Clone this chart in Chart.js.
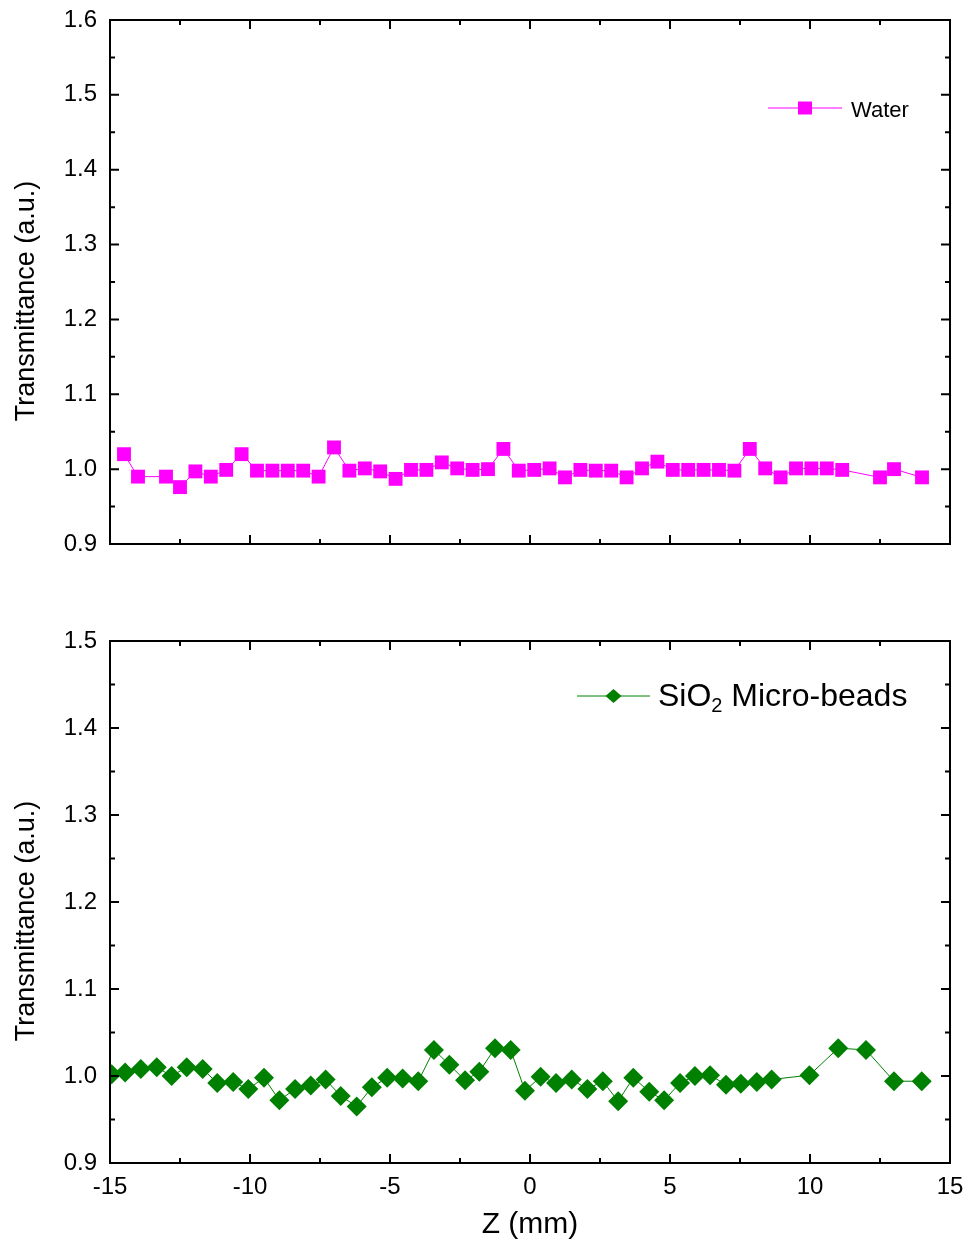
<!DOCTYPE html>
<html>
<head>
<meta charset="utf-8">
<script src="https://cdn.jsdelivr.net/npm/chart.js@4.4.1/dist/chart.umd.min.js"></script>
<style>
  html, body { margin: 0; padding: 0; background: #fff; }
  #wrap { position: relative; width: 967px; height: 1243px; }
  canvas { position: absolute; left: 0; }
</style>
</head>
<body>
<div id="wrap">
  <canvas id="top" width="967" height="600" style="top:0"></canvas>
  <canvas id="bottom" width="967" height="643" style="top:600px"></canvas>
</div>
<script>
// Water (upper panel)
const waterZ = [-14.5, -14.0, -13.0, -12.5, -11.95, -11.4, -10.85, -10.3, -9.75, -9.2,
  -8.65, -8.1, -7.55, -7.0, -6.45, -5.9, -5.35, -4.8, -4.25, -3.7,
  -3.15, -2.6, -2.05, -1.5, -0.95, -0.4, 0.15, 0.7, 1.25, 1.8,
  2.35, 2.9, 3.45, 4.0, 4.55, 5.1, 5.65, 6.2, 6.75, 7.3,
  7.85, 8.4, 8.95, 9.5, 10.05, 10.6, 11.15, 12.5, 13.0, 14.0];
const waterT = [1.020, 0.990, 0.990, 0.976, 0.997, 0.990, 0.999, 1.020, 0.998, 0.998,
  0.998, 0.998, 0.990, 1.029, 0.998, 1.001, 0.997, 0.987, 0.999, 0.999,
  1.009, 1.001, 0.999, 1.000, 1.027, 0.998, 0.999, 1.001, 0.989, 0.999,
  0.998, 0.998, 0.989, 1.001, 1.010, 0.999, 0.999, 0.999, 0.999, 0.998,
  1.027, 1.001, 0.989, 1.001, 1.001, 1.001, 0.999, 0.989, 1.000, 0.989];

// SiO2 micro-beads (lower panel)
const beadsZ = [-14.94, -14.46, -13.9, -13.33, -12.8, -12.26, -11.69, -11.17, -10.6, -10.06,
  -9.5, -8.95, -8.39, -7.83, -7.3, -6.76, -6.19, -5.65, -5.1, -4.55,
  -3.99, -3.43, -2.88, -2.32, -1.81, -1.25, -0.69, -0.18, 0.38, 0.93,
  1.49, 2.05, 2.6, 3.15, 3.69, 4.26, 4.79, 5.36, 5.89, 6.43,
  7.0, 7.53, 8.1, 8.63, 9.98, 11.01, 12.0, 13.0, 13.99];
const beadsT = [1.002, 1.004, 1.008, 1.010, 1.000, 1.010, 1.008, 0.992, 0.993, 0.985,
  0.998, 0.972, 0.985, 0.989, 0.996, 0.977, 0.965, 0.987, 0.998, 0.997,
  0.994, 1.030, 1.013, 0.995, 1.005, 1.032, 1.030, 0.983, 0.999, 0.992,
  0.996, 0.985, 0.994, 0.971, 0.998, 0.982, 0.972, 0.992, 1.000, 1.001,
  0.990, 0.991, 0.993, 0.996, 1.001, 1.032, 1.030, 0.994, 0.994];

const zMin = -15, zMax = 15, zStep = 5;
const topYMin = 0.9, topYMax = 1.6;
const botYMin = 0.9, botYMax = 1.5;
const yStep = 0.1;

const FONT = '"Liberation Sans", Arial, sans-serif';
const MAGENTA = '#ff00ff';
const GREEN = '#008000';

const pts = (xs, ys) => xs.map((x, i) => ({ x, y: ys[i] }));

// box + inward ticks, y-axis title, in-plot legend
function framePlugin(cfg) {
  return {
    id: 'frame',
    afterDraw(chart) {
      const { ctx, chartArea: a, scales: { x, y } } = chart;
      ctx.save();
      ctx.strokeStyle = '#000';
      ctx.lineWidth = 2;
      ctx.strokeRect(a.left, a.top, a.right - a.left, a.bottom - a.top);

      const ticksOf = sc => {
        const v = sc.ticks.map(t => t.value);
        const out = [];
        v.forEach((t, i) => {
          out.push({ v: t, major: true });
          if (i < v.length - 1) out.push({ v: (t + v[i + 1]) / 2, major: false });
        });
        return out;
      };
      ctx.beginPath();
      ticksOf(x).forEach(t => {
        const px = x.getPixelForValue(t.v);
        const len = t.major ? 9 : 5;
        ctx.moveTo(px, a.bottom); ctx.lineTo(px, a.bottom - len);
        ctx.moveTo(px, a.top); ctx.lineTo(px, a.top + len);
      });
      ticksOf(y).forEach(t => {
        const py = y.getPixelForValue(t.v);
        const len = t.major ? 9 : 5;
        ctx.moveTo(a.left, py); ctx.lineTo(a.left + len, py);
        ctx.moveTo(a.right, py); ctx.lineTo(a.right - len, py);
      });
      ctx.stroke();

      // y title
      ctx.fillStyle = '#000';
      ctx.font = '27px ' + FONT;
      ctx.textAlign = 'center';
      ctx.textBaseline = 'middle';
      ctx.translate(27, cfg.titleY);
      ctx.rotate(-Math.PI / 2);
      ctx.fillText('Transmittance (a.u.)', 0, 0);
      ctx.restore();

      // legend
      const L = cfg.legend;
      ctx.save();
      ctx.strokeStyle = L.color;
      ctx.lineWidth = 1;
      ctx.beginPath();
      ctx.moveTo(L.x0, L.y); ctx.lineTo(L.x1, L.y);
      ctx.stroke();
      ctx.fillStyle = L.color;
      const mx = (L.x0 + L.x1) / 2;
      ctx.beginPath();
      if (L.shape === 'rect') {
        ctx.rect(mx - 7, L.y - 6.5, 14, 13);
      } else {
        ctx.moveTo(mx - 8, L.y); ctx.lineTo(mx, L.y - 7);
        ctx.lineTo(mx + 8, L.y); ctx.lineTo(mx, L.y + 7);
        ctx.closePath();
      }
      ctx.fill();
      ctx.fillStyle = '#000';
      ctx.textAlign = 'left';
      ctx.textBaseline = 'middle';
      let tx = L.tx;
      L.parts.forEach(p => {
        ctx.font = p.size + 'px ' + FONT;
        ctx.fillText(p.text, tx, L.y + (p.dy || 0));
        tx += ctx.measureText(p.text).width;
      });
      ctx.restore();
    }
  };
}

function yAxis(min, max) {
  return {
    min, max,
    border: { display: false },
    grid: { display: false, drawTicks: false },
    ticks: {
      stepSize: yStep,
      padding: 13,
      color: '#000',
      font: { family: FONT, size: 24 },
      callback: v => v.toFixed(1)
    },
    afterFit(s) { s.width = 110; s.paddingTop = 0; s.paddingBottom = 0; }
  };
}

function dataset(label, data, color, style, radius) {
  return {
    label, data,
    borderColor: color,
    backgroundColor: color,
    borderWidth: 1,
    pointStyle: style,
    pointRadius: radius,
    pointBorderWidth: 0,
    pointBackgroundColor: color,
    tension: 0
  };
}

new Chart(document.getElementById('top'), {
  type: 'line',
  data: { datasets: [dataset('Water', pts(waterZ, waterT), MAGENTA, 'rect', 9.8)] },
  options: {
    responsive: false,
    animation: false,
    devicePixelRatio: 1,
    layout: { padding: { top: 20, right: 17, bottom: 56, left: 0 } },
    plugins: { legend: { display: false }, tooltip: { enabled: false } },
    scales: {
      x: { type: 'linear', min: zMin, max: zMax, display: false, ticks: { stepSize: zStep } },
      y: yAxis(topYMin, topYMax)
    }
  },
  plugins: [framePlugin({
    titleY: 301,
    legend: { x0: 768, x1: 842, y: 108, color: MAGENTA, shape: 'rect', tx: 851,
      parts: [{ text: 'Water', size: 22, dy: 3 }] }
  })]
});

new Chart(document.getElementById('bottom'), {
  type: 'line',
  data: { datasets: [dataset('SiO2 Micro-beads', pts(beadsZ, beadsT), GREEN, 'rectRot', 10)] },
  options: {
    responsive: false,
    animation: false,
    devicePixelRatio: 1,
    layout: { padding: { top: 41, right: 17, bottom: 0, left: 0 } },
    plugins: { legend: { display: false }, tooltip: { enabled: false } },
    scales: {
      x: {
        type: 'linear', min: zMin, max: zMax,
        border: { display: false },
        grid: { display: false, drawTicks: false },
        ticks: { stepSize: zStep, padding: 10, color: '#000', maxRotation: 0,
          font: { family: FONT, size: 24 } },
        title: { display: true, text: 'Z (mm)', color: '#000',
          font: { family: FONT, size: 30 }, padding: { top: 0, bottom: 0 } },
        afterFit(s) { s.height = 80; s.paddingLeft = 0; s.paddingRight = 0; }
      },
      y: yAxis(botYMin, botYMax)
    }
  },
  plugins: [framePlugin({
    titleY: 321,
    legend: { x0: 577, x1: 650, y: 96, color: GREEN, shape: 'diamond', tx: 658,
      parts: [{ text: 'SiO', size: 32, dy: 1 }, { text: '2', size: 20, dy: 10 }, { text: ' Micro-beads', size: 32, dy: 1 }] }
  })]
});
</script>
</body>
</html>
